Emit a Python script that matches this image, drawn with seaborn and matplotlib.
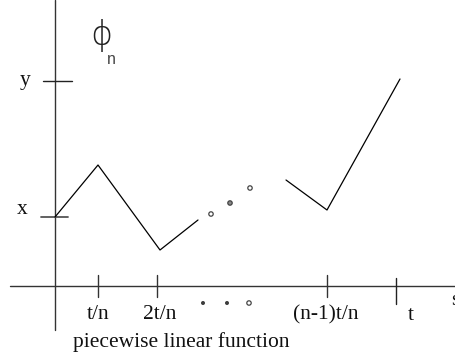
import matplotlib
matplotlib.use("Agg")
import matplotlib.pyplot as plt
import seaborn as sns
import pandas as pd

# Diagram data (s = horizontal position, v = function value), origin at axes crossing
seg1_s = [0, 43, 105, 143]
seg1_v = [69, 121, 36, 66]
seg2_s = [231, 272, 345]
seg2_v = [106, 76, 207]
dots_s = [156, 175, 195]
dots_v = [72, 83, 98]
dots_fill = ["white", "#888888", "white"]
under_dots_s = [148, 172, 194]
under_dots_v = [-17, -17, -17]
under_dots_fill = ["#333333", "#333333", "white"]

xtick_pos = [43, 102, 272, 341]
xtick_labels = ["t/n", "2t/n", "(n-1)t/n", "t"]
xlabel_pos = [43, 105, 271, 356]
ytick_pos = [205, 69]
ytick_labels = ["y", "x"]

sns.set_style("white")
plt.rcParams["font.family"] = ["Liberation Serif", "DejaVu Sans"]

fig = plt.figure(figsize=(4.56, 3.58), dpi=100)
ax = fig.add_axes([0, 0, 1, 1])
ax.set_xlim(-55, 401)
ax.set_ylim(-72, 286)
ax.axis("off")

axis_col = "#333333"
# axes
ax.plot([0, 0], [286, -44], color=axis_col, lw=1.0)
ax.plot([-45, 401], [0, 0], color=axis_col, lw=1.0)

# x ticks
for p, lab, lp in zip(xtick_pos, xtick_labels, xlabel_pos):
    if lab == "t":
        ax.plot([p, p], [8, -18], color="#222222", lw=1.0)
        ax.text(lp, -34, lab, ha="center", va="baseline", fontsize=15.5, color="#111111")
    else:
        ax.plot([p, p], [11, -11], color=axis_col, lw=1.0)
        ax.text(lp, -33, lab, ha="center", va="baseline", fontsize=15.5, color="#111111")

# y ticks
ax.plot([-12, 17], [ytick_pos[0], ytick_pos[0]], color="#222222", lw=1.0)
ax.plot([-14, 13], [ytick_pos[1], ytick_pos[1]], color="#555555", lw=1.3)
ax.text(-30, 201, ytick_labels[0], ha="center", va="baseline", fontsize=15.5, color="#111111")
ax.text(-33, 72, ytick_labels[1], ha="center", va="baseline", fontsize=15.5, color="#111111")

# curve segments
df1 = pd.DataFrame({"s": seg1_s, "v": seg1_v})
df2 = pd.DataFrame({"s": seg2_s, "v": seg2_v})
sns.lineplot(data=df1, x="s", y="v", sort=False, color="black", lw=0.9, ax=ax)
sns.lineplot(data=df2, x="s", y="v", sort=False, color="black", lw=0.9, ax=ax)

# ellipsis dots
d1 = pd.DataFrame({"s": dots_s, "v": dots_v})
sns.scatterplot(data=d1, x="s", y="v", s=10, facecolor=dots_fill, edgecolor="#444444",
                linewidth=0.9, ax=ax, zorder=5)
d2 = pd.DataFrame({"s": under_dots_s, "v": under_dots_v})
sns.scatterplot(data=d2, x="s", y="v", s=[4, 4, 10], facecolor=under_dots_fill,
                edgecolor="#444444", linewidth=0.9, ax=ax, zorder=5)

# labels
ax.text(46, 251, "\u03d5", ha="center", va="center", fontsize=24, color="#222222",
        family=["DejaVu Sans"], fontweight="light")
ax.text(56, 226, "n", ha="center", va="center", fontsize=11.5, color="#444444",
        family=["Liberation Sans"])
ax.text(396, -19, "s", ha="left", va="baseline", fontsize=15.5, color="#111111")
ax.text(126, -61, "piecewise linear function", ha="center", va="baseline",
        fontsize=15.5, color="#111111")

ax.set_xlim(-55, 401)
ax.set_ylim(-72, 286)
ax.set_xlabel("")
ax.set_ylabel("")
fig.savefig("out.png", dpi=100)
